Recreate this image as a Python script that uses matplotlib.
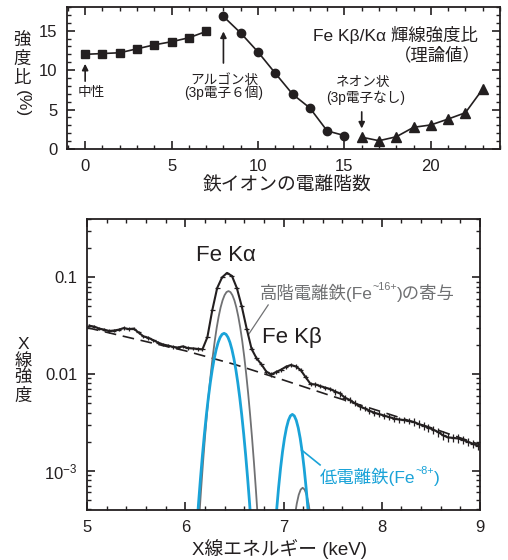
import numpy as np
import matplotlib
matplotlib.use('Agg')
import matplotlib.pyplot as plt
from matplotlib.ticker import MultipleLocator, LogLocator, NullFormatter, FixedLocator, FixedFormatter

plt.rcParams['font.family'] = ['Liberation Sans', 'Noto Sans CJK JP']
plt.rcParams['mathtext.fontset'] = 'custom'
plt.rcParams['mathtext.rm'] = 'Liberation Sans'
plt.rcParams['mathtext.it'] = 'Liberation Sans:italic'
plt.rcParams['mathtext.bf'] = 'Liberation Sans:bold'

# ---------------- data: top panel (Fe Kbeta/Kalpha ratio) ----------------
ion_low = [0, 1, 2, 3, 4, 5, 6, 7]
ratio_low = [12.0, 12.1, 12.2, 12.7, 13.2, 13.6, 14.1, 14.9]
ion_mid = [8, 9, 10, 11, 12, 13, 14, 15]
ratio_mid = [16.8, 14.7, 12.3, 9.6, 6.95, 5.2, 2.3, 1.7]
ion_high = [16, 17, 18, 19, 20, 21, 22, 23]
ratio_high = [1.5, 1.05, 1.55, 2.75, 3.05, 3.8, 4.6, 7.6]
top_xticks = [0, 5, 10, 15, 20]
top_yticks = [0, 5, 10, 15]

# ---------------- data: bottom panel (X-ray spectrum) ----------------
energy = np.round(np.arange(5.025, 9.0, 0.05), 3)
flux = [0.0316, 0.0309, 0.0295, 0.0288, 0.0279, 0.0282, 0.0288, 0.0299, 0.0292, 0.0295,
        0.0269, 0.0245, 0.0237, 0.0224, 0.0211, 0.0202, 0.0197, 0.0191, 0.0188, 0.0193,
        0.0186, 0.0184, 0.0182, 0.0180, 0.0240, 0.0457, 0.0776, 0.100, 0.111, 0.1035,
        0.0776, 0.0501, 0.0295, 0.0182, 0.0146, 0.0126, 0.0106, 0.0099, 0.0105, 0.0111,
        0.0119, 0.0124, 0.0120, 0.0110, 0.0093, 0.0079, 0.0078, 0.0075, 0.00724, 0.0070,
        0.0066, 0.0063, 0.0057, 0.0054, 0.0050, 0.00462, 0.00442, 0.00417, 0.00398, 0.00385,
        0.00372, 0.00359, 0.00347, 0.00339, 0.00335, 0.00327, 0.0032, 0.00305, 0.00292, 0.00279,
        0.00266, 0.00251, 0.00232, 0.00221, 0.00219, 0.00216, 0.00209, 0.00200, 0.00191, 0.00182]
rel_err = [0.04] * 24 + [0.025] * 9 + [0.05] * 17 + [0.07] * 16 + [0.10] * 14

cont_E = [5.0, 5.5, 6.0, 6.5, 7.0, 7.5, 8.0, 8.5, 9.0]
cont_y = [0.0302, 0.0229, 0.0174, 0.0126, 0.00867, 0.00589, 0.00407, 0.00279, 0.00186]

low_ka_E = [6.095, 6.115, 6.135, 6.155, 6.175, 6.195, 6.215, 6.235, 6.255, 6.275, 6.295,
            6.315, 6.335, 6.355, 6.375, 6.395, 6.415, 6.435, 6.455, 6.475, 6.495, 6.515,
            6.535, 6.555, 6.575, 6.595, 6.615, 6.635, 6.655, 6.675, 6.695]
low_ka_y = [0.0001195, 0.000240, 0.000458, 0.000834, 0.001447, 0.002395, 0.00378, 0.00568,
            0.00814, 0.01112, 0.01447, 0.01796, 0.02125, 0.02395, 0.02574, 0.02636, 0.02574,
            0.02395, 0.02125, 0.01796, 0.01447, 0.01112, 0.00814, 0.00568, 0.00378, 0.002395,
            0.001447, 0.000834, 0.000458, 0.000240, 0.0001195]
high_ka_E = [6.12, 6.14, 6.16, 6.18, 6.20, 6.22, 6.24, 6.26, 6.28, 6.30, 6.32, 6.34, 6.36,
             6.38, 6.40, 6.42, 6.44, 6.46, 6.48, 6.50, 6.52, 6.54, 6.56, 6.58, 6.60, 6.62,
             6.64, 6.66, 6.68, 6.70, 6.72, 6.74, 6.76]
high_ka_y = [0.0001435, 0.000305, 0.000616, 0.001188, 0.00218, 0.00381, 0.00635, 0.01008,
             0.01523, 0.02193, 0.0301, 0.0393, 0.0489, 0.0579, 0.0654, 0.0704, 0.0721, 0.0704,
             0.0654, 0.0579, 0.0489, 0.0393, 0.0301, 0.02193, 0.01523, 0.01008, 0.00635,
             0.00381, 0.00218, 0.001188, 0.000616, 0.000305, 0.0001435]
low_kb_E = [6.91, 6.93, 6.95, 6.97, 6.99, 7.01, 7.03, 7.05, 7.07, 7.09, 7.11, 7.13, 7.15,
            7.17, 7.19, 7.21, 7.23, 7.25, 7.27]
low_kb_y = [0.000214, 0.000392, 0.000669, 0.001063, 0.001573, 0.002166, 0.002779, 0.003320,
            0.003694, 0.003828, 0.003694, 0.003320, 0.002779, 0.002166, 0.001573, 0.001063,
            0.000669, 0.000392, 0.000214]
high_kb_E = [7.095, 7.115, 7.135, 7.155, 7.175, 7.195, 7.215, 7.235, 7.255, 7.275, 7.295]
high_kb_y = [0.000233, 0.000340, 0.000457, 0.000564, 0.000639, 0.000667, 0.000639, 0.000564,
             0.000457, 0.000340, 0.000233]
bot_xticks = [5, 6, 7, 8, 9]
bot_yticks = [1e-3, 1e-2, 1e-1]
bot_yticklabels = ['$10^{-3}$', '0.01', '0.1']

TXT = '#231f20'
BLUE = '#1aa3d8'
GRAY = '#707173'

fig = plt.figure(figsize=(5.08, 5.6), dpi=100)

def style_axes(ax):
    for s in ax.spines.values():
        s.set_linewidth(1.3)
        s.set_color(TXT)
    ax.tick_params(which='both', direction='in', top=True, right=True, color=TXT,
                   labelcolor=TXT, labelsize=12, pad=7)
    ax.tick_params(which='major', length=6, width=1.2)
    ax.tick_params(which='minor', length=3.2, width=1.0)

# ---------------- top panel ----------------
ax1 = fig.add_axes([67 / 508, 1 - 149 / 560, 433 / 508, 142 / 560])
style_axes(ax1)
ax1.plot(ion_low, ratio_low, '-s', color=TXT, ms=5.5, lw=1.2)
ax1.plot(ion_mid, ratio_mid, '-o', color=TXT, ms=6, lw=1.2)
ax1.plot(ion_high, ratio_high, '-^', color=TXT, ms=7.5, lw=1.2)
ax1.set_xlim(-1.05, 24.0)
ax1.set_ylim(0, 18)
ax1.set_xticks(top_xticks)
ax1.set_yticks(top_yticks)
ax1.xaxis.set_minor_locator(MultipleLocator(1))
ax1.yaxis.set_minor_locator(MultipleLocator(1))

arrow_kw = dict(arrowstyle='-|>', color=TXT, lw=1.2, mutation_scale=9, shrinkA=0, shrinkB=0)
ax1.annotate('', xy=(0, 10.8), xytext=(0, 8.6), arrowprops=arrow_kw)
ax1.annotate('', xy=(8, 14.9), xytext=(8, 10.9), arrowprops=arrow_kw)
ax1.annotate('', xy=(16, 2.6), xytext=(16, 4.7), arrowprops=arrow_kw)
ax1.text(0.35, 7.2, '中性', ha='center', va='center', fontsize=9.8, color=TXT)
ax1.text(8.03, 8.77, 'アルゴン状', ha='center', va='center', fontsize=9.8, color=TXT)
ax1.text(8.03, 7.1, '(3p電子６個)', ha='center', va='center', fontsize=9.8, color=TXT)
ax1.text(16.07, 8.5, 'ネオン状', ha='center', va='center', fontsize=9.8, color=TXT)
ax1.text(16.2, 6.5, '(3p電子なし)', ha='center', va='center', fontsize=9.8, color=TXT)
ax1.text(22.7, 14.5, 'Fe Kβ/Kα 輝線強度比', ha='right', va='center', fontsize=12.5, color=TXT)
ax1.text(20.35, 11.95, '（理論値）', ha='center', va='center', fontsize=12.5, color=TXT)

fig.text(22 / 508, 1 - 59 / 560, '強\n度\n比', ha='center', va='center',
         fontsize=12.5, color=TXT, linespacing=1.2)
fig.text(22 / 508, 1 - 104 / 560, '(%)', ha='center', va='center', rotation=270,
         fontsize=12.5, color=TXT)
fig.text(287.5 / 508, 1 - 186 / 560, '鉄イオンの電離階数', ha='center', va='center',
         fontsize=13.5, color=TXT)

# ---------------- bottom panel ----------------
ax2 = fig.add_axes([87 / 508, 1 - 510 / 560, 393 / 508, 291 / 560])
style_axes(ax2)
ax2.set_yscale('log')
ax2.set_xlim(5, 9)
ax2.set_ylim(3.93e-4, 0.401)
ax2.set_xticks(bot_xticks)
ax2.xaxis.set_minor_locator(MultipleLocator(0.2))
ax2.yaxis.set_major_locator(FixedLocator(bot_yticks))
ax2.yaxis.set_major_formatter(FixedFormatter(bot_yticklabels))
ax2.yaxis.set_minor_locator(LogLocator(base=10, subs=np.arange(2, 10)))
ax2.yaxis.set_minor_formatter(NullFormatter())

fl = np.array(flux)
ax2.errorbar(energy, fl, xerr=0.025, yerr=fl * np.array(rel_err), fmt='none',
             ecolor=TXT, elinewidth=0.9, capsize=0, zorder=3)
ax2.plot(energy, fl, '-', color=TXT, lw=1.5, zorder=4)
ax2.plot(cont_E, cont_y, '--', color=TXT, lw=1.2, dashes=(7, 4), zorder=2)
ax2.plot(high_ka_E, high_ka_y, '-', color=GRAY, lw=1.3, zorder=2)
ax2.plot(high_kb_E, high_kb_y, '-', color=GRAY, lw=1.3, zorder=2)
ax2.plot(low_ka_E, low_ka_y, '-', color=BLUE, lw=2.0, zorder=2)
ax2.plot(low_kb_E, low_kb_y, '-', color=BLUE, lw=2.0, zorder=2)

ax2.text(6.414, 0.170, 'Fe Kα', ha='center', va='center', fontsize=16, color=TXT)
ax2.text(7.085, 0.0236, 'Fe Kβ', ha='center', va='center', fontsize=16, color=TXT)

# leader lines
ax2.plot([6.844, 6.641], [0.0518, 0.0254], '-', color=GRAY, lw=0.9)
ax2.plot([7.184, 7.372], [0.00164, 0.00115], '-', color=BLUE, lw=1.2)

def label_with_sup(ax, x, y, pre, sup, post, color, fs):
    t1 = ax.text(x, y, pre, ha='left', va='center', fontsize=fs, color=color)
    t2 = ax.annotate(sup, xy=(1, 0.55), xycoords=t1, ha='left', va='bottom',
                     fontsize=fs * 0.62, color=color)
    t3 = ax.annotate(post, xy=(1, 0), xycoords=(t2, t1), ha='left', va='bottom',
                     fontsize=fs, color=color)
    return t1, t2, t3

label_with_sup(ax2, 6.76, 0.0689, '高階電離鉄(Fe', '~16+', ')の寄与', GRAY, 12.5)
label_with_sup(ax2, 7.37, 0.000861, '低電離鉄(Fe', '~8+', ')', BLUE, 12.5)

fig.text(23 / 508, 1 - 370 / 560, 'X\n線\n強\n度', ha='center', va='center',
         fontsize=12.5, color=TXT, linespacing=1.1)
fig.text(280 / 508, 1 - 549 / 560, 'X線エネルギー (keV)', ha='center', va='center',
         fontsize=13.5, color=TXT)

fig.savefig('out.png', dpi=100)
